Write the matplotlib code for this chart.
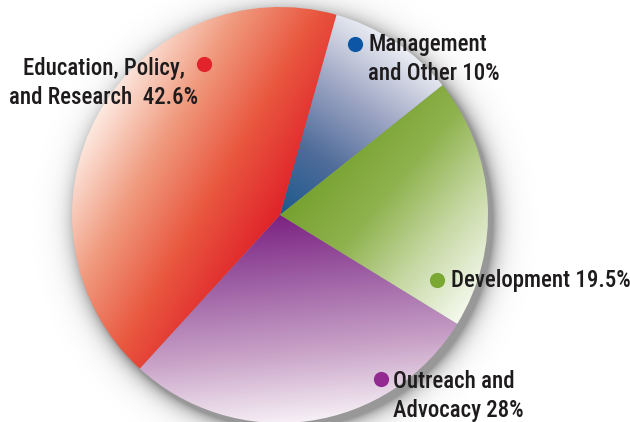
import numpy as np
import matplotlib
matplotlib.use("Agg")
import matplotlib.pyplot as plt
from matplotlib import font_manager
from matplotlib.patches import Wedge
from matplotlib.colors import LinearSegmentedColormap

names = set(f.name for f in font_manager.fontManager.ttflist)
font, fsize = 'Liberation Sans', 14
for cand in ['Liberation Sans Narrow', 'Roboto Condensed', 'Open Sans Condensed',
             'DejaVu Sans Condensed']:
    if cand in names:
        font, fsize = cand, 16.5
        break
plt.rcParams['font.family'] = [font, 'DejaVu Sans']

# data
labels = ["Management\nand Other 10%", "Development 19.5%",
          "Outreach and\nAdvocacy 28%", "Education, Policy,\nand Research  42.6%"]
shares = [10, 19.5, 28, 42.6]
grad = [["#1b5a8c", "#4f6c9a", "#9ea6c4", "#eceef4"],
        ["#76a22f", "#8fb24e", "#c7d9a5", "#f5f9ee"],
        ["#7c2282", "#a063a6", "#c9a3c8", "#f7f0f6"],
        ["#e0232a", "#e9573f", "#f09a7e", "#fde9e0"]]
dots = ["#0d56a6", "#7aa832", "#932a91", "#e2232b"]
fade_dir = [55, -40, -85, 150]

W, H = 630, 422
fig = plt.figure(figsize=(W / 100, H / 100), dpi=100)
ax = fig.add_axes([0, 0, 1, 1])
ax.set_xlim(0, W)
ax.set_ylim(0, H)
ax.set_aspect('equal')
ax.axis('off')

cx, cy, r = 280, 207, 208

# soft shadow
gx, gy = np.meshgrid(np.arange(W) + 0.5, np.arange(H) + 0.5)
d = np.hypot(gx - (cx + 5), gy - (cy - 6)) - r
alpha = np.exp(-np.clip(d, 0, None) / 9.0) * 0.6
shadow = np.zeros((H, W, 4))
shadow[..., :3] = 0.33
shadow[..., 3] = alpha
ax.imshow(shadow, extent=[0, W, 0, H], origin='lower', zorder=1)

start = 74.6
ends = start - np.cumsum(shares) * 3.6
tops = np.r_[start, ends[:-1]]
for i in range(len(shares)):
    t1, t2 = ends[i], tops[i]
    wedge = Wedge((cx, cy), r, t1, t2, facecolor='none', edgecolor='none', zorder=2)
    ax.add_patch(wedge)
    a = np.deg2rad(fade_dir[i])
    tt = np.deg2rad(np.linspace(t1, t2, 60))
    px = np.r_[cx, cx + r * np.cos(tt)]
    py = np.r_[cy, cy + r * np.sin(tt)]
    proj = px * np.cos(a) + py * np.sin(a)
    g = gx * np.cos(a) + gy * np.sin(a)
    g = np.clip((g - proj.min()) / (proj.max() - proj.min()), 0, 1)
    cmap = LinearSegmentedColormap.from_list("c%d" % i, grad[i])
    im = ax.imshow(g, cmap=cmap, vmin=0, vmax=1, extent=[0, W, 0, H],
                   origin='lower', zorder=3, interpolation='bilinear')
    im.set_clip_path(wedge)

# labels: dot position, text x, first line y, alignment
dot_xy = [(355, 44), (437, 280), (381, 379), (204, 64)]
text_xy = [(368, 45), (451, 281), (393, 381), (104, 68)]
aligns = ['left', 'left', 'left', 'center']
for i in range(len(labels)):
    ax.scatter([dot_xy[i][0]], [H - dot_xy[i][1]], s=120, color=dots[i],
               zorder=5, linewidths=0)
    for k, line in enumerate(labels[i].split("\n")):
        ax.text(text_xy[i][0], H - text_xy[i][1] - 29 * k, line, ha=aligns[i],
                va='center', fontsize=fsize, fontweight='medium',
                color="#1e1b1c", zorder=5)

fig.savefig("out.png", dpi=100)
